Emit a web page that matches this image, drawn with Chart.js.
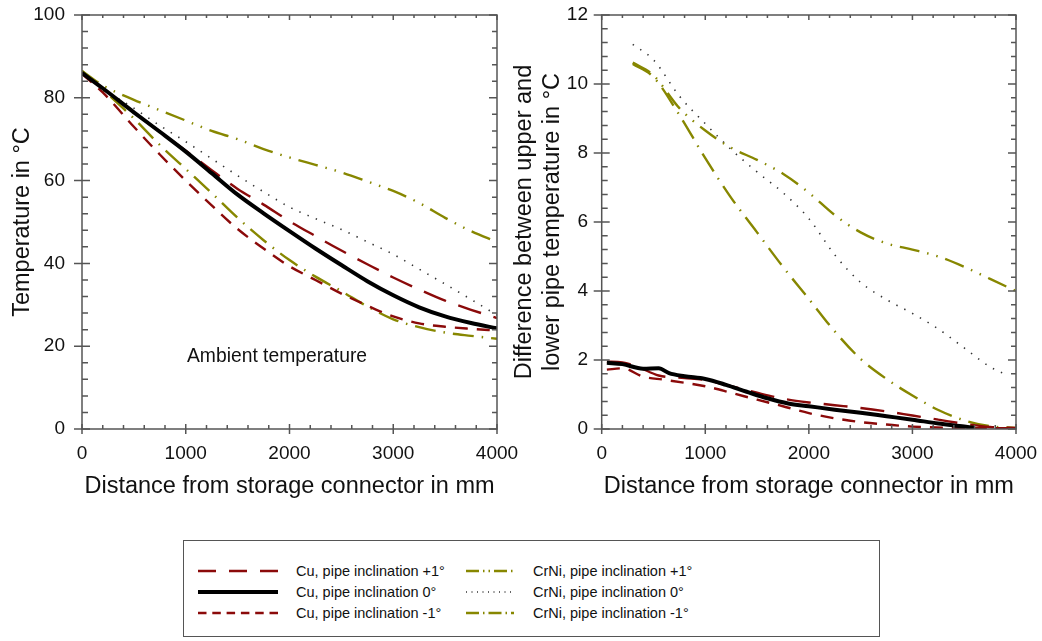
<!DOCTYPE html>
<html>
<head>
<meta charset="utf-8">
<script src="https://cdn.jsdelivr.net/npm/chart.js"></script>
<style>
  body { margin: 0; background: #ffffff; font-family: 'Liberation Sans', Arial, sans-serif; }
  #wrap { position: relative; width: 1042px; height: 641px; overflow: hidden; }
  canvas { position: absolute; top: 0; }
  #tempChart { left: 0; }
  #diffChart { left: 505px; }

  /* annotation inside left plot */
  .note { position: absolute; left: 187px; top: 345px; font-size: 19.3px; line-height: 22px; color: #111; }

  /* LEGEND BOX */
  .legend { position: absolute; left: 183px; top: 540px; width: 697px; height: 97px; border: 1px solid #555; box-sizing: border-box; }
  .item { position: absolute; height: 20px; display: flex; align-items: center; font-size: 14.5px; color: #111; white-space: nowrap; }
  .item svg { display: block; }
</style>
</head>
<body>
<div id="wrap">
  <canvas id="tempChart" width="540" height="520"></canvas>
  <canvas id="diffChart" width="537" height="520"></canvas>
  <div class="note">Ambient temperature</div>
  <div class="legend" id="legend"></div>
</div>

<script>
// ---- data: left plot, temperature along the pipe ----
const distLeft = [0, 200, 500, 750, 1000, 1250, 1500, 1750, 2000, 2250, 2500, 2750, 3000, 3250, 3500, 3750, 4000];
const cuPlusTemp  = [86, 82.3, 76.5, 71.8, 67.2, 62.5, 58, 54.2, 50.2, 46.6, 43.1, 39.8, 36.6, 33.7, 31, 28.8, 26.8];
const cuZeroTemp  = [86, 82.3, 76.5, 71.8, 67, 61.8, 56.6, 52.1, 47.8, 43.6, 39.6, 35.7, 32.3, 29.4, 27.2, 25.6, 24.3];
const cuMinusTemp = [85.8, 81.3, 73, 66.3, 60, 54, 48.3, 43.6, 39.3, 36, 32.7, 29.8, 27.2, 25.5, 24.7, 24.2, 23.8];
const crniPlusTemp  = [86.5, 83, 79.5, 77, 74.5, 72, 70, 67.6, 65.6, 63.8, 62, 59.8, 57.5, 54.6, 51, 47.8, 45.2];
const crniZeroTemp  = [86, 82.2, 77.5, 73.3, 69.4, 65.3, 61.2, 57.3, 53.6, 50.8, 48.2, 45.2, 42.2, 38.6, 35, 31.3, 27.5];
const crniMinusTemp = [86.5, 82, 75, 68.6, 62.8, 57, 51, 45.6, 40.8, 36.8, 33.3, 29.6, 26.5, 24.6, 23.3, 22.5, 21.8];

// ---- data: right plot, upper minus lower pipe temperature ----
const distCrni = [300, 500, 750, 1000, 1250, 1500, 1750, 2000, 2250, 2500, 2750, 3000, 3250, 3500, 3750, 4000];
const crniPlusDiff  = [10.62, 10.25, 9.3, 8.65, 8.15, 7.8, 7.4, 6.85, 6.2, 5.7, 5.38, 5.2, 5.0, 4.7, 4.35, 4.0];
const crniMinusDiff = [10.58, 10.2, 9.1, 7.85, 6.7, 5.7, 4.7, 3.77, 2.83, 2.03, 1.45, 0.97, 0.55, 0.25, 0.08, 0.03];
const distCrniZero = [300, 500, 750, 1000, 1250, 1500, 1750, 2000, 2250, 2500, 2750, 3000, 3250, 3500, 3750, 3900];
const crniZeroDiff  = [11.15, 10.7, 9.65, 8.85, 8.1, 7.45, 6.85, 6.1, 5.05, 4.25, 3.75, 3.35, 2.9, 2.35, 1.8, 1.58];

const distCuZero = [50, 200, 400, 550, 650, 800, 1000, 1200, 1400, 1600, 1800, 2000, 2250, 2500, 2750, 3000, 3250, 3500, 3600];
const cuZeroDiff = [1.92, 1.88, 1.75, 1.76, 1.62, 1.53, 1.45, 1.28, 1.08, 0.89, 0.74, 0.66, 0.56, 0.47, 0.37, 0.27, 0.16, 0.07, 0.03];
const distCuPlus = [50, 200, 350, 550, 800, 1000, 1250, 1500, 1750, 2000, 2250, 2500, 2750, 3000, 3250, 3500, 3750, 4000];
const cuPlusDiff = [1.95, 1.93, 1.8, 1.55, 1.48, 1.42, 1.24, 1.05, 0.88, 0.77, 0.69, 0.61, 0.51, 0.39, 0.27, 0.15, 0.06, 0.03];
const distCuMinus = [50, 200, 400, 600, 800, 1000, 1250, 1500, 1750, 2000, 2250, 2500, 2750, 3000, 3500, 4000];
const cuMinusDiff = [1.72, 1.76, 1.52, 1.43, 1.34, 1.24, 1.05, 0.85, 0.66, 0.46, 0.31, 0.2, 0.13, 0.07, 0.03, 0.02];

const legendLabels = [
  'Cu, pipe inclination +1°', 'Cu, pipe inclination 0°', 'Cu, pipe inclination -1°',
  'CrNi, pipe inclination +1°', 'CrNi, pipe inclination 0°', 'CrNi, pipe inclination -1°'
];

// ---- styles ----
const RED = '#8b0a0a';
const OLIVE = '#878700';
const styles = [
  { color: RED, width: 2.4, dash: [24, 13] },
  { color: '#000', width: 4, dash: [] },
  { color: RED, width: 2.4, dash: [13, 9] },
  { color: OLIVE, width: 2.4, dash: [20, 8, 1.5, 8, 1.5, 8] },
  { color: '#333', width: 1.6, dash: [1.4, 7.5] },
  { color: OLIVE, width: 2.4, dash: [21, 8, 1.5, 8] }
];

const pairs = (xs, ys) => xs.map((x, i) => ({ x, y: ys[i] }));

function ds(idx, data) {
  const s = styles[idx];
  return {
    label: legendLabels[idx],
    data,
    borderColor: s.color,
    borderWidth: s.width,
    borderDash: s.dash,
    pointRadius: 0,
    cubicInterpolationMode: 'monotone',
    fill: false
  };
}

// frame with inward ticks on all four sides
const frameTicks = {
  id: 'frameTicks',
  afterDraw(chart, args, o) {
    const { ctx, chartArea: a, scales: { x, y } } = chart;
    ctx.save();
    ctx.strokeStyle = '#555';
    ctx.lineWidth = 1.5;
    ctx.strokeRect(a.left, a.top, a.right - a.left, a.bottom - a.top);
    ctx.beginPath();
    const nx = Math.round((x.max - x.min) / o.xMinor);
    const kx = Math.round(o.xMajor / o.xMinor);
    for (let i = 0; i <= nx; i++) {
      const px = x.getPixelForValue(x.min + i * o.xMinor);
      const major = i % kx === 0;
      ctx.moveTo(px, a.bottom + (major ? 5 : 0));
      ctx.lineTo(px, a.bottom - (major ? 5 : 4));
      ctx.moveTo(px, a.top);
      ctx.lineTo(px, a.top + (major ? 5 : 3));
    }
    const ny = Math.round((y.max - y.min) / o.yMinor);
    const ky = Math.round(o.yMajor / o.yMinor);
    for (let i = 0; i <= ny; i++) {
      const py = y.getPixelForValue(y.min + i * o.yMinor);
      const major = i % ky === 0;
      ctx.moveTo(a.left - (major ? 8 : 0), py);
      ctx.lineTo(a.left + (major ? 8 : 6), py);
      ctx.moveTo(a.right, py);
      ctx.lineTo(a.right - (major ? 8 : 5), py);
    }
    ctx.stroke();
    ctx.restore();
  }
};

const fixBox = (w, h) => function (scale) {
  if (w) scale.width = w;
  if (h) scale.height = h;
  scale.paddingLeft = scale.paddingRight = scale.paddingTop = scale.paddingBottom = 0;
};

function makeOptions(c) {
  return {
    responsive: false,
    animation: false,
    layout: { padding: { top: 15, right: c.padRight, bottom: 0, left: 0 } },
    plugins: {
      legend: { display: false },
      tooltip: { enabled: false },
      frameTicks: c.ticks
    },
    scales: {
      x: {
        type: 'linear', min: 0, max: 4000,
        ticks: { stepSize: 1000, padding: 13.6, maxRotation: 0, autoSkip: false, color: '#111', font: { size: 19 },
                 callback: v => String(v) },
        grid: { display: false, drawTicks: false },
        border: { display: false },
        title: { display: true, text: 'Distance from storage connector in mm', color: '#111', font: { size: 23.5 }, padding: { top: 0, bottom: 19 } },
        afterFit: fixBox(0, 91)
      },
      y: {
        type: 'linear', min: 0, max: c.yMax,
        ticks: { stepSize: c.yStep, padding: c.yPad, color: '#111', font: { size: 19 }, callback: v => String(v) },
        grid: { display: false, drawTicks: false },
        border: { display: false },
        title: { display: true, text: c.yTitle, color: '#111', font: { size: 23.5, lineHeight: 1.15 }, padding: { top: c.titlePad, bottom: 0 } },
        afterFit: fixBox(c.yWidth, 0)
      }
    }
  };
}

// LEFT: temperature
new Chart(document.getElementById('tempChart'), {
  type: 'line',
  data: {
    datasets: [
      ds(1, pairs(distLeft, cuZeroTemp)),
      ds(0, pairs(distLeft, cuPlusTemp)),
      ds(2, pairs(distLeft, cuMinusTemp)),
      ds(3, pairs(distLeft, crniPlusTemp)),
      ds(4, pairs(distLeft, crniZeroTemp)),
      ds(5, pairs(distLeft, crniMinusTemp))
    ]
  },
  options: makeOptions({
    padRight: 43, yMax: 100, yStep: 20, yPad: 17, yWidth: 82, titlePad: 9,
    yTitle: 'Temperature in °C',
    ticks: { xMinor: 200, xMajor: 1000, yMinor: 4, yMajor: 20 }
  }),
  plugins: [frameTicks]
});

// RIGHT: temperature difference
new Chart(document.getElementById('diffChart'), {
  type: 'line',
  data: {
    datasets: [
      ds(1, pairs(distCuZero, cuZeroDiff)),
      ds(0, pairs(distCuPlus, cuPlusDiff)),
      ds(2, pairs(distCuMinus, cuMinusDiff)),
      ds(3, pairs(distCrni, crniPlusDiff)),
      ds(4, pairs(distCrniZero, crniZeroDiff)),
      ds(5, pairs(distCrni, crniMinusDiff))
    ]
  },
  options: makeOptions({
    padRight: 26, yMax: 12, yStep: 2, yPad: 13.7, yWidth: 96.7, titlePad: 6.5,
    yTitle: ['Difference between upper and', 'lower pipe temperature in °C'],
    ticks: { xMinor: 200, xMajor: 1000, yMinor: 0.4, yMajor: 2 }
  }),
  plugins: [frameTicks]
});

// LEGEND (two columns, three rows)
const legendDash = [[18, 13], [], [8.5, 5.8], [13, 4, 1.5, 4, 1.5, 4], [1, 4.5], [13, 4, 1.5, 4]];
const rowTop = [20, 41, 62];
const legend = document.getElementById('legend');
legendLabels.forEach((label, i) => {
  const col = i < 3 ? 0 : 1;
  const row = i % 3;
  const lineW = col === 0 ? 80 : 48;
  const s = styles[i];
  const item = document.createElement('div');
  item.className = 'item';
  item.style.left = (col === 0 ? 14 : 282) + 'px';
  item.style.top = rowTop[row] + 'px';
  item.innerHTML =
    '<svg width="' + lineW + '" height="10"><line x1="0" y1="5" x2="' + lineW + '" y2="5" stroke="' + s.color +
    '" stroke-width="' + s.width + '" stroke-dasharray="' + legendDash[i].join(' ') + '"/></svg>' +
    '<span style="margin-left:' + (col === 0 ? 18 : 19) + 'px">' + label + '</span>';
  legend.appendChild(item);
});
</script>
</body>
</html>
